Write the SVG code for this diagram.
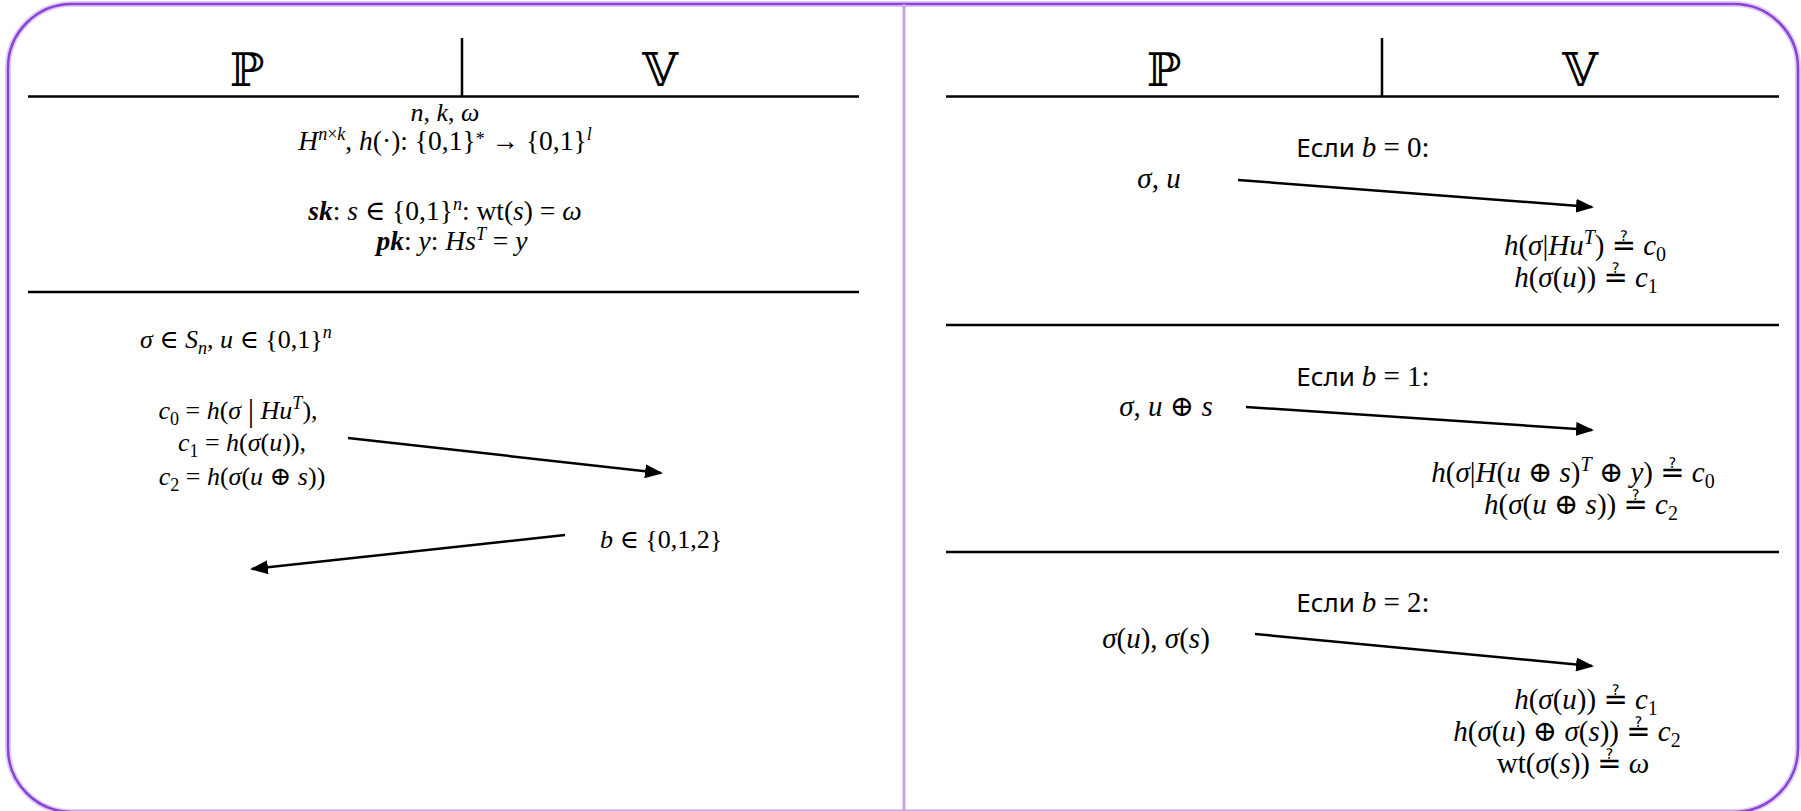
<svg xmlns="http://www.w3.org/2000/svg" width="1801" height="811" viewBox="0 0 1801 811">
<defs>
<style>
.m{font-family:"Liberation Serif","DejaVu Serif","DejaVu Sans",serif;font-size:26px;fill:#000}
.t{font-size:27.5px}
.r{font-size:29px}
.i{font-style:italic}
.b{font-style:italic;font-weight:bold}
.s{font-size:18px}
.r .s{font-size:20px}
.cy{font-family:"Noto Sans","Open Sans",sans-serif;font-size:26px}
.ds{font-family:"DejaVu Serif","DejaVu Sans",serif;font-size:46px;fill:#000}
.rule{stroke:#000;stroke-width:2.5;fill:none}
.arr{stroke:#000;stroke-width:2.5;fill:none;marker-end:url(#ah)}
</style>
<marker id="ah" markerUnits="userSpaceOnUse" viewBox="0 0 18 14" markerWidth="18" markerHeight="14" refX="16" refY="7" orient="auto">
<path d="M0,0 L18,7 L0,14 z" fill="#000"/>
</marker>
</defs>
<rect x="0" y="0" width="1801" height="811" fill="#fff"/>
<g id="frame">
<rect x="8" y="4" width="1790" height="808" rx="64" ry="64" fill="none" stroke="#e2ccf7" stroke-width="6"/>
<rect x="8" y="4" width="1790" height="808" rx="64" ry="64" fill="none" stroke="#8744d6" stroke-width="2.5"/>
<line x1="904" y1="4" x2="904" y2="811" stroke="#c9a3ea" stroke-width="3"/>
</g>
<g id="left-header">
<line class="rule" x1="462" y1="38" x2="462" y2="96"/>
<line class="rule" x1="28" y1="96.5" x2="859" y2="96.5"/>
<text class="ds" x="247" y="86" text-anchor="middle">ℙ</text>
<text class="ds" x="660" y="86" text-anchor="middle">𝕍</text>
</g>
<g id="params">
<text class="m" x="445" y="121" text-anchor="middle"><tspan class="i">n</tspan>, <tspan class="i">k</tspan>, <tspan class="i">ω</tspan></text>
<text class="m t" x="445" y="150" text-anchor="middle"><tspan class="i">H</tspan><tspan class="s i" dy="-10">n</tspan><tspan class="s">×</tspan><tspan class="s i">k</tspan><tspan dy="10">, </tspan><tspan class="i">h</tspan>(·): {0,1}<tspan class="s" dy="-5">*</tspan><tspan dy="5"> → {0,1}</tspan><tspan class="s i" dy="-10">l</tspan></text>
<text class="m t" x="445" y="220" text-anchor="middle"><tspan class="b">sk</tspan>: <tspan class="i">s</tspan> ∈ {0,1}<tspan class="s i" dy="-10">n</tspan><tspan dy="10">: wt(</tspan><tspan class="i">s</tspan>) = <tspan class="i">ω</tspan></text>
<text class="m t" x="452" y="250" text-anchor="middle"><tspan class="b">pk</tspan>: <tspan class="i">y</tspan>: <tspan class="i">Hs</tspan><tspan class="s i" dy="-10">T</tspan><tspan dy="10"> = </tspan><tspan class="i">y</tspan></text>
<line class="rule" x1="28" y1="292" x2="859" y2="292"/>
</g>
<g id="prover-commit">
<text class="m" x="140" y="348"><tspan class="i">σ</tspan> ∈ <tspan class="i">S</tspan><tspan class="s i" dy="6">n</tspan><tspan dy="-6">, </tspan><tspan class="i">u</tspan> ∈ {0,1}<tspan class="s i" dy="-10">n</tspan></text>
<text class="m" x="238" y="419" text-anchor="middle"><tspan class="i">c</tspan><tspan class="s" dy="6">0</tspan><tspan dy="-6"> = </tspan><tspan class="i">h</tspan>(<tspan class="i">σ</tspan> <tspan font-size="32" dy="2">|</tspan><tspan dy="-2"> </tspan><tspan class="i">Hu</tspan><tspan class="s i" dy="-10">T</tspan><tspan dy="10">),</tspan></text>
<text class="m" x="242" y="451" text-anchor="middle"><tspan class="i">c</tspan><tspan class="s" dy="6">1</tspan><tspan dy="-6"> = </tspan><tspan class="i">h</tspan>(<tspan class="i">σ</tspan>(<tspan class="i">u</tspan>)),</text>
<text class="m" x="242" y="485" text-anchor="middle"><tspan class="i">c</tspan><tspan class="s" dy="6">2</tspan><tspan dy="-6"> = </tspan><tspan class="i">h</tspan>(<tspan class="i">σ</tspan>(<tspan class="i">u</tspan> ⊕ <tspan class="i">s</tspan>))</text>
</g>
<g id="challenge">
<text class="m" x="600" y="548"><tspan class="i">b</tspan> ∈ {0,1,2}</text>
</g>
<g id="right-header">
<line class="rule" x1="1382" y1="38" x2="1382" y2="96"/>
<line class="rule" x1="946" y1="96.5" x2="1779" y2="96.5"/>
<text class="ds" x="1164" y="86" text-anchor="middle">ℙ</text>
<text class="ds" x="1580" y="86" text-anchor="middle">𝕍</text>
</g>
<g id="case0">
<text class="m r" x="1363" y="157" text-anchor="middle"><tspan class="cy">Если </tspan><tspan class="i">b</tspan> = 0:</text>
<text class="m r" x="1159" y="188" text-anchor="middle"><tspan class="i">σ</tspan>, <tspan class="i">u</tspan></text>
<text class="m r" x="1585" y="255" text-anchor="middle"><tspan class="i">h</tspan>(<tspan class="i">σ</tspan>|<tspan class="i">Hu</tspan><tspan class="s i" dy="-11">T</tspan><tspan dy="11">) ≟ </tspan><tspan class="i">c</tspan><tspan class="s" dy="6">0</tspan></text>
<text class="m r" x="1586" y="287" text-anchor="middle"><tspan class="i">h</tspan>(<tspan class="i">σ</tspan>(<tspan class="i">u</tspan>)) ≟ <tspan class="i">c</tspan><tspan class="s" dy="6">1</tspan></text>
<line class="rule" x1="946" y1="325" x2="1779" y2="325"/>
</g>
<g id="case1">
<text class="m r" x="1363" y="386" text-anchor="middle"><tspan class="cy">Если </tspan><tspan class="i">b</tspan> = 1:</text>
<text class="m r" x="1166" y="416" text-anchor="middle"><tspan class="i">σ</tspan>, <tspan class="i">u</tspan> ⊕ <tspan class="i">s</tspan></text>
<text class="m r" x="1573" y="482" text-anchor="middle"><tspan class="i">h</tspan>(<tspan class="i">σ</tspan>|<tspan class="i">H</tspan>(<tspan class="i">u</tspan> ⊕ <tspan class="i">s</tspan>)<tspan class="s i" dy="-11">T</tspan><tspan dy="11"> ⊕ </tspan><tspan class="i">y</tspan>) ≟ <tspan class="i">c</tspan><tspan class="s" dy="6">0</tspan></text>
<text class="m r" x="1581" y="514" text-anchor="middle"><tspan class="i">h</tspan>(<tspan class="i">σ</tspan>(<tspan class="i">u</tspan> ⊕ <tspan class="i">s</tspan>)) ≟ <tspan class="i">c</tspan><tspan class="s" dy="6">2</tspan></text>
<line class="rule" x1="946" y1="552" x2="1779" y2="552"/>
</g>
<g id="case2">
<text class="m r" x="1363" y="612" text-anchor="middle"><tspan class="cy">Если </tspan><tspan class="i">b</tspan> = 2:</text>
<text class="m r" x="1156" y="648" text-anchor="middle"><tspan class="i">σ</tspan>(<tspan class="i">u</tspan>), <tspan class="i">σ</tspan>(<tspan class="i">s</tspan>)</text>
<text class="m r" x="1586" y="709" text-anchor="middle"><tspan class="i">h</tspan>(<tspan class="i">σ</tspan>(<tspan class="i">u</tspan>)) ≟ <tspan class="i">c</tspan><tspan class="s" dy="6">1</tspan></text>
<text class="m r" x="1567" y="741" text-anchor="middle"><tspan class="i">h</tspan>(<tspan class="i">σ</tspan>(<tspan class="i">u</tspan>) ⊕ <tspan class="i">σ</tspan>(<tspan class="i">s</tspan>)) ≟ <tspan class="i">c</tspan><tspan class="s" dy="6">2</tspan></text>
<text class="m r" x="1573" y="773" text-anchor="middle">wt(<tspan class="i">σ</tspan>(<tspan class="i">s</tspan>)) ≟ <tspan class="i">ω</tspan></text>
</g>
<g id="connectors">
<line class="arr" x1="348" y1="438" x2="661" y2="473"/>
<line class="arr" x1="565" y1="535" x2="252" y2="569"/>
<line class="arr" x1="1238" y1="180" x2="1592" y2="207"/>
<line class="arr" x1="1246" y1="407" x2="1592" y2="430"/>
<line class="arr" x1="1255" y1="634" x2="1592" y2="666"/>
</g>
</svg>
